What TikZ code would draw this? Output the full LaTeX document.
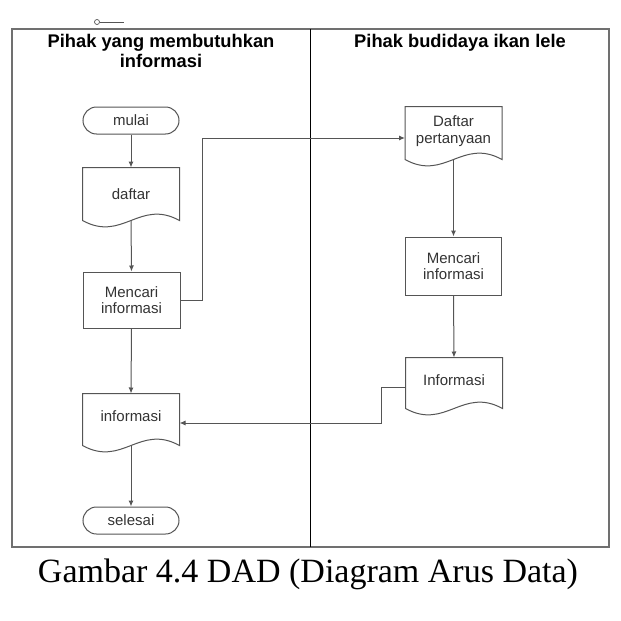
\documentclass[tikz,border=0pt]{standalone}
\usepackage{fontspec}
\setmainfont{Liberation Sans}
\newfontfamily\capfont{Liberation Serif}
\usetikzlibrary{arrows.meta,calc}
\definecolor{linegray}{HTML}{555555}
\definecolor{textgray}{HTML}{333333}
\definecolor{framegray}{HTML}{707070}
\tikzset{
  box/.style={rectangle, draw=linegray, line width=1pt, minimum width=96pt, text=textgray, align=center, font=\fontsize{15}{16.5}\selectfont, inner sep=0pt},
  term/.style={box, rounded corners=13.5pt, minimum height=27pt},
  proc/.style={box},
  docnode/.style={box, draw=none},
  docline/.style={draw=linegray, line width=1pt},
  flow/.style={draw=linegray, line width=1pt, -{Latex[length=6pt,width=5pt]}},
  header/.style={font=\bfseries\fontsize{18.3}{18}\selectfont, text=black, inner sep=0pt},
  doctext/.style={text=textgray, font=\fontsize{15}{16.5}\selectfont, align=center, inner sep=0pt}
}
\newcommand\docdraw[1]{%
  \path[docline] (#1.north west) -- (#1.north east) -- (#1.south east)
    .. controls +(-40,-22) and +(40,22) .. (#1.south west) -- cycle;}
\begin{document}
\begin{tikzpicture}[x=1pt,y=-1pt]
\useasboundingbox (0,0) rectangle (621,621);
% frame and lanes
\draw[framegray, line width=1.1pt] (12,29) rectangle (609,547);
\draw[black, line width=0.9pt] (310,29) -- (310,547);
\draw[linegray, line width=0.7pt] (97,22) circle (2.5pt);
\draw[linegray, line width=0.8pt] (99.5,22) -- (124,22);
% headers
\node[header] (h1a) at (161,43) {Pihak yang membutuhkan};
\node[header] (h1b) at (161,61) {informasi};
\node[header] (h2) at (460,43) {Pihak budidaya ikan lele};
% left lane nodes
\node[term] (mulai) at (131,120.5) {mulai};
\node[docnode, minimum height=52pt] (daftar) at (131,194) {daftar};
\node[proc, minimum width=97pt, minimum height=56pt] (m1) at (131.5,300) {Mencari\\informasi};
\node[docnode, minimum height=51pt] (inf1) at (131,419.5) {};
\node[doctext] (inf1t) at (131,416) {informasi};
\node[term] (selesai) at (131,520.5) {selesai};
% right lane nodes
\node[docnode, minimum height=52pt] (dp) at (453.5,133) {};
\node[doctext] (dpt) at (453.5,131) {Daftar\\pertanyaan};
\node[proc, minimum height=58pt] (m2) at (453.5,266) {Mencari\\informasi};
\node[docnode, minimum height=50pt] (inf2) at (454,383) {};
\node[doctext] (inf2t) at (454,380) {Informasi};
% document outlines
\docdraw{daftar}
\docdraw{inf1}
\docdraw{dp}
\docdraw{inf2}
% connectors
\draw[flow] (mulai.south) -- (daftar.north);
\draw[flow] (daftar.south) -- (m1.north);
\draw[flow] (m1.east) -- ++(22,0) |- ([yshift=-5pt]dp.west);
\draw[flow] (dp.south) -- (m2.north);
\draw[flow] (m2.south) -- (inf2.north);
\draw[flow] ([yshift=-4pt]inf2.west) -- ++(-24,0) |- ([yshift=-3.5pt]inf1.east);
\draw[flow] (m1.south) -- (inf1.north);
\draw[flow] (inf1.south) -- (selesai.north);
% caption
\node[font=\capfont\fontsize{34}{36}\selectfont, anchor=base, inner sep=0pt] (cap) at (308,582) {Gambar 4.4 DAD (Diagram Arus Data)};
\end{tikzpicture}
\end{document}
